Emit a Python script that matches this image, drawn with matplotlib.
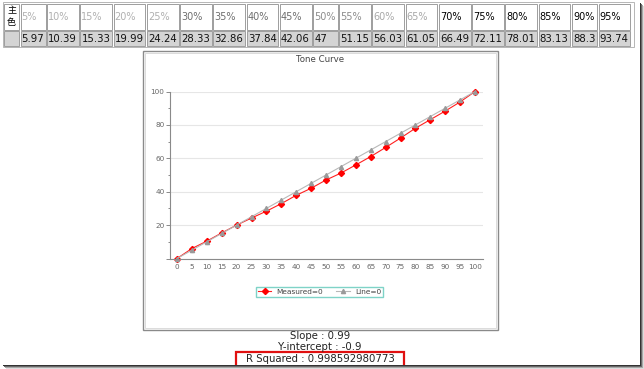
import matplotlib
matplotlib.use("Agg")
import matplotlib.pyplot as plt
from matplotlib.patches import Rectangle
from matplotlib.lines import Line2D

W, H = 644, 369

# table data
levels = ["5%", "10%", "15%", "20%", "25%", "30%", "35%", "40%", "45%", "50%",
          "55%", "60%", "65%", "70%", "75%", "80%", "85%", "90%", "95%"]
values = ["5.97", "10.39", "15.33", "19.99", "24.24", "28.33", "32.86", "37.84", "42.06", "47",
          "51.15", "56.03", "61.05", "66.49", "72.11", "78.01", "83.13", "88.3", "93.74"]
head_colors = ["#b0b0b0"] * 5 + ["#6e6e6e"] * 4 + ["#8c8c8c"] * 2 + ["#a8a8a8"] * 2 + ["#000000"] * 6

# chart data
x = [0, 5, 10, 15, 20, 25, 30, 35, 40, 45, 50, 55, 60, 65, 70, 75, 80, 85, 90, 95, 100]
measured = [0, 5.97, 10.39, 15.33, 19.99, 24.24, 28.33, 32.86, 37.84, 42.06, 47,
            51.15, 56.03, 61.05, 66.49, 72.11, 78.01, 83.13, 88.3, 93.74, 100]
line = [0, 5, 10, 15, 20, 25, 30, 35, 40, 45, 50, 55, 60, 65, 70, 75, 80, 85, 90, 95, 100]

fig = plt.figure(figsize=(W / 100, H / 100), dpi=100)
fig.patch.set_facecolor("white")
tf = fig.transFigure


def fx(px):
    return px / W


def fy(py):
    return 1 - py / H


def rect(x0, y0, x1, y1, fc="none", ec="#a0a0a0", lw=0.72, z=1):
    fig.patches.append(Rectangle((fx(x0), fy(y1)), fx(x1) - fx(x0), (y1 - y0) / H,
                                 transform=tf, facecolor=fc, edgecolor=ec, linewidth=lw, zorder=z))


def hline(x0, x1, y, c, lw=0.72):
    fig.lines.append(Line2D([fx(x0), fx(x1)], [fy(y), fy(y)], transform=tf, color=c,
                            linewidth=lw, zorder=5))


def vline(x, y0, y1, c, lw=0.72):
    fig.lines.append(Line2D([fx(x), fx(x)], [fy(y0), fy(y1)], transform=tf, color=c,
                            linewidth=lw, zorder=5))


# ---- table ----
rect(2.5, 2.5, 633.5, 47, ec="#b8b8b8")
rect(4, 4, 19, 29.5, fc="white")
rect(4, 31, 19, 45.5, fc="#d4d4d4")
fig.text(fx(11.5), fy(10.5), "主", fontsize=6.5, ha="center", va="center",
         family=["Noto Sans CJK SC", "DejaVu Sans"])
fig.text(fx(11.5), fy(22.5), "色", fontsize=6.5, ha="center", va="center",
         family=["Noto Sans CJK SC", "DejaVu Sans"])
cx = 20
for lev, val, col in zip(levels, values, head_colors):
    w = max(26, 6.55 * len(val) + 0.5)
    rect(cx + 0.5, 4, cx + w - 1, 29.5, fc="white")
    rect(cx + 0.5, 31, cx + w - 1, 45.5, fc="#d4d4d4")
    fig.text(fx(cx + 1.5), fy(16.5), lev, fontsize=7, color=col, ha="left", va="center")
    fig.text(fx(cx + 1.5), fy(38.5), val, fontsize=7.3, color="#111111", ha="left", va="center")
    cx += w

# ---- chart panel ----
rect(142.5, 51, 498, 329.5, ec="#8a8a8a", lw=1.0)
rect(144.5, 53, 496, 327.5, ec="#dcdcdc", lw=0.72)
fig.text(fx(320), fy(60), "Tone Curve", fontsize=6.2, color="#444444", ha="center", va="center")

ax = fig.add_axes([fx(170), fy(258.5), (483 - 170) / W, (258.5 - 91.5) / H])
ax.set_xlim(-2.35, 102.68)
ax.set_ylim(0, 100)
for s in ["top", "right"]:
    ax.spines[s].set_visible(False)
ax.spines["left"].set_color("#8a8a8a")
ax.spines["bottom"].set_color("#8a8a8a")
ax.spines["left"].set_linewidth(0.8)
ax.spines["bottom"].set_linewidth(0.8)
ax.set_xticks(x)
ax.set_yticks([0, 20, 40, 60, 80, 100])
ax.set_yticklabels(["", "20", "40", "60", "80", "100"])
ax.set_yticks([10, 30, 50, 70, 90], minor=True)
ax.tick_params(axis="x", length=0, labelsize=5.2, labelcolor="#666666", pad=4)
ax.tick_params(axis="y", which="major", length=3, color="#8a8a8a", width=0.7,
               labelsize=5.2, labelcolor="#666666", pad=1)
ax.tick_params(axis="y", which="minor", length=1.5, color="#8a8a8a", width=0.7)
ax.grid(axis="y", color="#e6e6e6", linewidth=0.8)
ax.set_axisbelow(True)

ax.plot(x, measured, color="#ff2020", linewidth=0.8, marker="D", markersize=3.1,
        markerfacecolor="#ff0000", markeredgecolor="#ff0000", label="Measured=0", clip_on=False)
ax.plot(x, line, color="#b8b8b8", linewidth=0.8, marker="^", markersize=3.0,
        markerfacecolor="#9a9a9a", markeredgecolor="#9a9a9a", label="Line=0", clip_on=False)

leg = fig.legend(loc="center", bbox_to_anchor=(fx(319.5), fy(292)), ncol=2, fontsize=5.3,
                 frameon=True, fancybox=False, edgecolor="#5fc9b9", borderpad=0.3,
                 handlelength=1.8, columnspacing=1.8, handletextpad=0.7)
leg.get_frame().set_linewidth(1.0)
for t in leg.get_texts():
    t.set_color("#444444")

# ---- bottom text ----
fig.text(fx(320), fy(336), "Slope : 0.99", fontsize=7.3, color="#222222", ha="center", va="center")
fig.text(fx(320), fy(347.5), "Y-intercept : -0.9", fontsize=7.3, color="#222222", ha="center", va="center")
fig.text(fx(320), fy(359), "R Squared : 0.998592980773", fontsize=7.3, color="#222222",
         ha="center", va="center")
rect(236, 352, 404, 366.5, ec="#e01010", lw=1.6, z=3)

# ---- screenshot shadow ----
for i, c in enumerate(["#333333", "#6a6a6a", "#a8a8a8", "#dcdcdc"]):
    hline(3 + i, 641 + i, 364.5 + i, c)
    vline(639.5 + i, 3 + i, 365 + i, c)

fig.savefig("out.png", dpi=100)
